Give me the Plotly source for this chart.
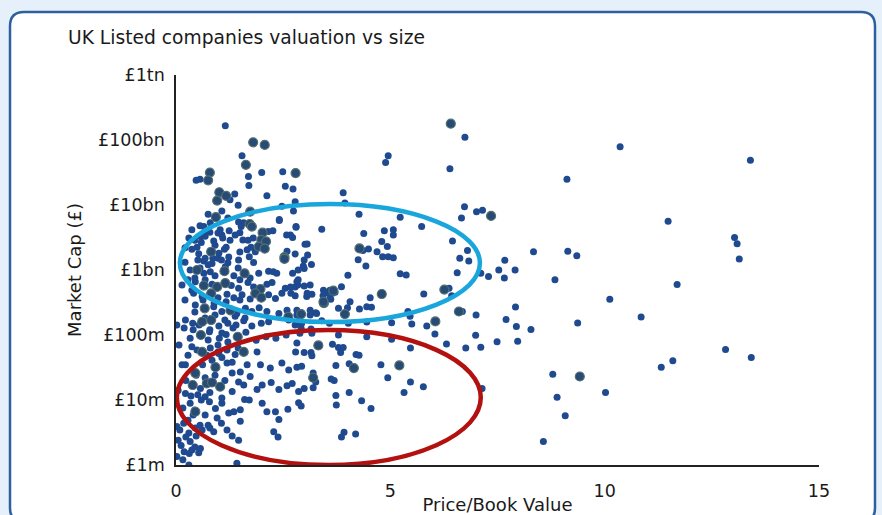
import plotly.graph_objects as go

# ---- Data (Price/Book value, Market cap in £m) ----
pb_small = [
    6.74, 10.36, 4.95, 4.89, 6.39, 9.12, 6.73, 7.01, 7.15, 6.66, 5.23, 5.73, 4.86, 5.07, 5.07, 6.45,
    4.80, 4.93, 6.80, 8.34, 9.14, 9.35, 6.62, 6.83, 4.82, 4.95, 5.07, 7.67, 7.53, 7.91,
    7.66, 7.11, 7.29, 6.56, 5.23, 5.37, 8.84, 6.37, 6.43, 5.78, 10.12, 6.68, 5.41, 5.46, 7.00, 7.92,
    7.70, 7.94, 8.28, 9.37, 5.50, 5.85, 5.03, 6.04, 6.99, 6.31, 6.76, 7.11, 7.49, 7.97, 5.47, 5.03,
    4.78, 4.94, 5.47, 5.77, 5.32, 7.14, 8.79, 10.02, 8.89, 9.08, 8.57,
    13.40, 11.48, 13.03, 13.09, 13.14, 11.69, 10.85, 12.82, 13.42, 11.59, 11.32,
    1.15, 1.54, 0.47, 0.56, 1.69, 2.00, 2.49, 1.70, 2.55, 2.73, 1.37, 2.12, 1.45, 3.90, 2.78, 2.74,
    4.27, 2.47, 2.41, 1.21,
    3.94, 3.40, 2.80, 4.38, 3.06, 3.01, 4.36, 4.49, 4.69, 4.25, 4.43, 2.78, 3.07, 2.99, 3.16, 2.97,
    2.99, 4.01, 2.85, 2.84, 2.78, 2.99, 2.78, 3.05, 3.17, 3.86, 3.43, 3.52, 3.59, 3.65, 3.71, 3.61,
    3.44, 4.53, 3.79, 4.00, 4.28, 4.45, 4.56,
    3.13, 3.26, 3.40, 3.58, 2.78, 2.92, 3.15, 3.17, 2.89, 4.02, 4.45, 4.45, 3.79, 3.65, 3.79, 3.90,
    3.84, 2.82, 2.79, 2.99, 3.15, 3.17, 4.20, 4.27, 2.93, 3.73, 4.04, 3.20, 3.26, 3.62, 3.69, 2.99,
    3.20, 4.04, 3.73, 4.33, 2.92, 3.74, 4.55, 3.92, 3.86, 4.19,
    0.80, 0.65, 0.68, 0.58, 1.46, 1.58, 1.03, 1.07, 1.24, 1.09, 1.52, 1.49, 1.56, 1.80, 0.88, 0.59,
    0.37, 0.53, 0.86, 1.13, 1.00, 1.23, 2.26, 2.15, 2.41, 2.67, 2.72, 2.80, 1.75, 1.66, 1.85, 2.59,
    0.65, 0.84, 1.06, 1.15, 1.46, 1.81, 1.71,
    0.65, 0.80, 1.35, 1.93, 2.16, 2.72, 2.85,
    0.45, 0.84, 1.29, 1.46, 1.68, 1.81, 2.12, 2.24, 2.55, 2.67,
    0.41, 0.61, 0.98, 1.19, 1.35, 1.54, 1.73, 2.16, 2.32, 2.47,
    0.45, 0.88, 1.07, 1.42, 1.62, 1.77, 1.94, 2.12, 2.40, 2.59, 2.82,
    0.02, 0.22, 0.39, 1.00, 1.21, 1.40, 1.58, 1.77, 1.99, 2.16, 2.63, 2.86,
    0.40, 0.78, 1.01, 1.17, 1.63, 1.87, 2.10, 2.33, 2.57,
    0.37, 0.80, 1.00, 1.19, 1.38, 1.89,
    0.22, 0.62, 1.19, 1.31, 1.50, 1.73, 1.66, 1.97, 2.20, 2.47, 2.63, 2.82,
    0.22, 0.57, 0.68, 1.31, 1.46, 1.58, 1.89, 2.01, 2.22, 2.40, 2.59, 2.71, 2.86,
    0.33, 0.59, 0.78, 0.92, 1.07, 1.23, 1.35, 1.50, 1.60, 1.71, 2.01, 2.12, 2.32, 2.61, 2.86,
    0.02, 0.18, 0.30, 0.45, 0.61, 0.75, 0.88, 1.06, 1.19, 1.31, 1.46, 1.50, 2.28, 2.40, 2.38,
    0.02, 0.16, 0.37, 0.57, 0.31, 0.44, 0.30, 1.42, 0.53,
    2.58, 2.27, 2.35, 3.44, 3.59, 4.06, 3.13, 3.28, 2.89, 2.82, 2.93, 3.13, 2.82, 3.06, 2.68,
    0.05, 0.12, 0.23, 0.19, 0.33, 0.47, 0.09, 0.28, 0.40, 0.16, 0.35, 0.05, 0.23, 0.47, 0.14, 0.28,
    0.07, 0.33, 0.19, 0.44, 0.21, 0.37, 0.28, 0.56, 0.68, 0.49, 0.30, 0.56, 0.75, 1.07, 1.26, 0.98,
    1.17,
    0.68, 0.91, 1.14, 1.38, 1.61, 0.75, 0.98, 1.21, 1.45, 0.84, 1.07, 1.31, 0.68, 0.91, 1.14, 0.51,
    0.79, 1.07, 0.44, 0.68, 0.96, 0.56, 0.79,
    0.63, 0.89, 1.17, 1.49, 0.54, 0.79, 1.07, 1.33, 0.49, 0.72, 0.98,
    0.21, 0.33, 0.51, 0.75, 0.98, 1.21, 1.45, 0.14, 0.44, 0.68, 0.91, 1.49, 1.73, 0.21, 0.44, 0.68,
    0.91, 1.26, 1.49, 0.37, 0.79, 1.38, 1.68,
]
cap_small = [
    110000, 79000, 57000, 45000, 36000, 25000, 9400, 7900, 8300, 6300, 6500, 4650, 4000, 4150, 3450, 2800,
    2750, 2290, 1990, 1910, 1950, 1650, 1510, 1380, 1600, 1600, 1550, 1410, 1000, 1000,
    755, 890, 795, 910, 875, 835, 705, 525, 400, 427, 355, 230, 230, 195, 203, 270,
    173, 135, 122, 153, 148, 138, 155, 104, 99, 73, 63, 65, 79, 80, 63, 86,
    35, 22, 19, 16, 13, 15, 25, 13, 11, 5.7, 2.3,
    49000, 5600, 3150, 2530, 1480, 600, 190, 60, 45, 40, 32,
    165000, 57000, 24000, 25000, 27500, 31600, 32500, 20000, 19500, 17700, 14800, 13900, 9900, 15500, 11200, 8100,
    7200, 9600, 6000, 6300,
    10700, 4250, 4650, 3650, 2520, 2500, 1990, 2100, 1910, 1440, 1150, 1770, 1700, 1420, 1210, 1150,
    1050, 830, 705, 590, 550, 565, 400, 390, 425, 552, 400, 447, 490, 437, 455, 355,
    309, 375, 257, 263, 251, 273, 268,
    203, 220, 166, 152, 142, 126, 124, 106, 106, 152, 158, 94, 100, 72, 64, 64,
    54, 75, 55, 54, 54, 48, 50, 49, 33, 34, 36, 26, 19, 21, 20, 15,
    15.5, 13, 11.7, 9.7, 8.1, 8.4, 7.4, 3.2, 2.7, 3.0,
    5350, 4650, 3900, 3250, 5500, 5350, 4150, 3450, 4000, 3100, 4650, 3750, 2900, 3100, 2800, 2650,
    2090, 1780, 1510, 2090, 1810, 1580, 4000, 3900, 5800, 3450, 3150, 4550, 2230, 2040, 1910, 1950,
    1380, 1260, 1420, 1120, 1420, 1310, 1600,
    890, 940, 815, 890, 960, 890, 1000,
    660, 605, 575, 525, 645, 550, 605, 645, 525, 550,
    437, 390, 375, 425, 375, 415, 357, 415, 365, 437,
    290, 273, 230, 215, 257, 230, 263, 230, 215, 240, 203,
    142, 170, 152, 138, 152, 142, 165, 138, 152, 160, 170, 152,
    120, 112, 89, 102, 110, 83, 94, 89, 100,
    66, 63, 52, 59, 50, 55,
    35, 35, 37, 26, 27, 23, 35, 35, 31, 37, 29, 32,
    12.6, 15, 11.2, 13.5, 19, 17, 14.5, 17, 18.6, 14.5, 16.6, 18, 13.5,
    8.9, 10, 9.4, 7.4, 8.9, 6.3, 6.6, 7.1, 10.2, 10, 8.9, 6.6, 6.6, 7.2, 9.1,
    3.9, 4.4, 3.1, 3.7, 3.45, 4.1, 3.25, 4.4, 3.45, 2.8, 2.4, 4.7, 3.25, 5.0, 2.7,
    1.35, 1.2, 1.7, 1.8, 1.5, 1.9, 1.0, 1.06, 1.55,
    3450, 940, 890, 490, 365, 325, 240, 215, 190, 240, 150, 590, 660, 437, 437,
    2.4, 2.0, 2.7, 1.6, 2.3, 2.8, 3.45, 4.9, 5.9, 7.5, 11.5, 14, 20, 24, 35, 49,
    70, 89, 128, 225, 345, 490, 705, 1070, 1510, 2240, 3100, 4800, 7200, 8100, 12000, 3700,
    2240,
    182, 203, 170, 195, 182, 84, 70, 78, 63, 41, 45, 38, 22, 24, 20, 12,
    13, 10.7, 7.0, 5.9, 5.3, 4.1, 3.7,
    345, 309, 325, 345, 142, 120, 107, 128, 59, 49, 55,
    1320, 1000, 1420, 1200, 1510, 1290, 1070, 590, 755, 705, 815, 705, 755, 2190, 2880, 3310,
    2400, 2880, 1900, 4150, 3800, 3450, 2880,
]

pb_large = [
    6.41, 7.35, 6.26, 6.60, 4.80, 6.05, 5.21, 9.42,
    1.80, 2.07, 1.63, 0.79, 0.75, 2.79, 1.01, 1.17, 0.96, 1.73, 0.93,
    4.28, 3.45, 2.92, 3.94, 3.32, 4.15, 3.20,
    1.72, 1.77, 0.82, 2.02, 1.99, 2.10, 1.93, 2.07, 2.53,
    2.53, 0.49, 1.13, 1.60, 0.65, 0.96, 1.15, 1.97, 0.82, 1.85, 1.99,
    0.67, 1.27, 0.61, 0.82, 0.58, 1.44, 0.61, 1.58,
    0.45, 0.92, 0.39, 0.72, 0.84, 1.03, 0.45,
    3.67, 3.44, 2.62,
]
cap_large = [
    178000, 6800, 500, 230, 427, 162, 34, 23,
    92000, 84000, 41500, 31500, 24000, 31000, 15700, 13800, 11700, 7900, 6500,
    2150, 309, 210, 210, 69, 31, 22,
    5100, 4650, 1910, 3750, 2900, 2750, 2290, 2130, 1580,
    1480, 1000, 960, 890, 575, 550, 630, 510, 437, 437, 375,
    257, 240, 160, 170, 100, 94, 55, 55,
    26, 32, 17, 18, 18.6, 16, 6.6,
    480, 325, 190,
]

y_tickvals = [1, 10, 100, 1000, 10000, 100000, 1000000]
y_ticktext = ["£1m", "£10m", "£100m", "£1bn", "£10bn", "£100bn", "£1tn"]
x_tickvals = [0, 5, 10, 15]

# highlighted regions (P/B range, £m range)
blue_region = dict(x0=0.09, x1=7.09, y0=158, y1=10350)
red_region = dict(x0=0.02, x1=7.11, y0=1.0, y1=119)

FONT = "DejaVu Sans"
TXT = "#1a1a1a"

fig = go.Figure()
fig.add_trace(go.Scatter(
    x=pb_small, y=cap_small, mode="markers",
    marker=dict(size=7, color="#1f4a8f", line=dict(width=0)),
    showlegend=False, hoverinfo="x+y"))
fig.add_trace(go.Scatter(
    x=pb_large, y=cap_large, mode="markers",
    marker=dict(size=9, color="#284b75", line=dict(width=1.2, color="#53706f")),
    showlegend=False, hoverinfo="x+y"))

L, R, T, B = 176, 63, 75, 50
W, H = 882, 515
pw, ph = W - L - R, H - T - B

def px(xp):
    return (xp - L) / pw

def py(yp):
    return (H - B - yp) / ph

# rounded card
xl, xr, yt, yb = px(10), px(875), py(12), py(522)
rx, ry = 14 / pw, 14 / ph
card = (f"M {xl+rx},{yt} L {xr-rx},{yt} Q {xr},{yt} {xr},{yt-ry} L {xr},{yb+ry} "
        f"Q {xr},{yb} {xr-rx},{yb} L {xl+rx},{yb} Q {xl},{yb} {xl},{yb+ry} "
        f"L {xl},{yt-ry} Q {xl},{yt} {xl+rx},{yt} Z")
fig.add_shape(type="path", path=card, xref="paper", yref="paper",
              fillcolor="white", line=dict(color="#2e5f9f", width=2.5), layer="below")

fig.add_shape(type="circle", xref="x", yref="y", **blue_region,
              line=dict(color="#19a6dd", width=4.5), fillcolor="rgba(0,0,0,0)")
fig.add_shape(type="circle", xref="x", yref="y", **red_region,
              line=dict(color="#b3110f", width=4.5), fillcolor="rgba(0,0,0,0)")

fig.add_annotation(text="UK Listed companies valuation vs size", xref="paper", yref="paper",
                   x=px(66), y=py(38), xanchor="left", yanchor="middle", showarrow=False,
                   font=dict(family=FONT, size=18.7, color=TXT))

fig.update_layout(
    width=W, height=H,
    margin=dict(l=L, r=R, t=T, b=B, pad=0),
    paper_bgcolor="#e6f0fa", plot_bgcolor="white",
    font=dict(family=FONT, size=17, color=TXT),
    xaxis=dict(range=[0, 15], tickvals=x_tickvals, showgrid=False, zeroline=False,
               showline=True, linecolor="#222", linewidth=1.5, ticks="", automargin=False,
               ticklabelstandoff=9,
               title=dict(text="Price/Book Value", standoff=3, font=dict(size=18)),
               tickfont=dict(size=17.5)),
    yaxis=dict(type="log", range=[0, 6], tickvals=y_tickvals, ticktext=y_ticktext,
               showgrid=False, zeroline=False, showline=True, linecolor="#222", linewidth=1.5,
               ticks="", ticklabelstandoff=6, automargin=False,
               title=dict(text="Market Cap (£)", standoff=12, font=dict(size=18)),
               tickfont=dict(size=17.5)),
)

fig.write_html("out.html", config={"displayModeBar": False},
               post_script="document.body.style.margin='0';document.body.style.background='#e6f0fa';")
